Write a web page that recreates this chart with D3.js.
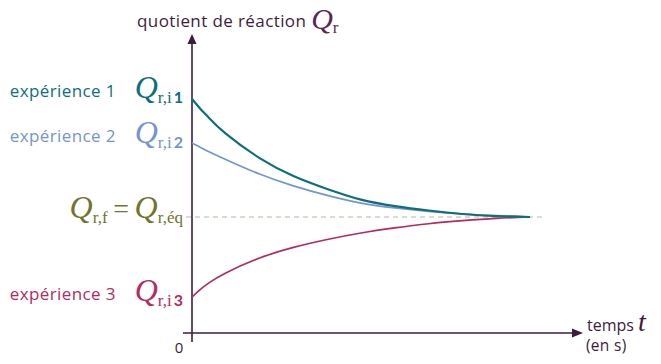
<!DOCTYPE html>
<html>
<head>
<meta charset="utf-8">
<script src="https://cdn.jsdelivr.net/npm/d3@7"></script>
<style>
  body { margin: 0; background: #fff; }
  text { font-family: "Open Sans", Lato, sans-serif; }
</style>
</head>
<body>
<div id="chart"></div>
<script>
// temps (s) et quotients de réaction
const times = [0, 0.25, 0.5, 1, 2, 3, 4, 5, 6, 7, 8, 9, 10];
const q1 = [10.09, 9.66, 9.28, 8.59, 7.54, 6.77, 6.21, 5.75, 5.47, 5.28, 5.13, 5.04, 5.0];
const q2 = [8.19, 8.00, 7.81, 7.48, 6.85, 6.34, 5.93, 5.60, 5.39, 5.24, 5.13, 5.06, 5.0];
const q3 = [1.55, 1.88, 2.16, 2.59, 3.23, 3.69, 4.03, 4.31, 4.53, 4.71, 4.84, 4.94, 5.0];
const qEq = 5;
const expLabels = ["expérience 1", "expérience 2", "expérience 3"];
const expNums = ["1", "2", "3"];
const colors = ["#0d6f7c", "#7495cf", "#b52a5f"];
const widths = [2.2, 1.7, 1.7];

const width = 661, height = 364;
const axisColor = "#3e1c3e", olive = "#73742f";
const serif = "'Liberation Serif', 'DejaVu Serif', serif";

const svg = d3.select("#chart")
    .append("svg")
    .attr("width", width)
    .attr("height", height);

const x = d3.scaleLinear().domain([0, 10]).range([192, 530]);
const y = d3.scaleLinear().domain([0, 12]).range([333, 54.6]);

// ligne d'équilibre en pointillés
svg.append("line")
    .attr("x1", x(0) - 6).attr("x2", x(10) + 15)
    .attr("y1", y(qEq)).attr("y2", y(qEq))
    .attr("stroke", "#b9b89c")
    .attr("stroke-width", 1)
    .attr("stroke-dasharray", "5,4");

// axes
svg.append("line")
    .attr("x1", x(0)).attr("x2", x(0))
    .attr("y1", y(0) + 9).attr("y2", 42)
    .attr("stroke", axisColor).attr("stroke-width", 1.6);
svg.append("path")
    .attr("d", `M${x(0)},34 L${x(0) - 4.5},44 L${x(0) + 4.5},44 Z`)
    .attr("fill", axisColor);

svg.append("line")
    .attr("x1", x(0) - 9).attr("x2", 574)
    .attr("y1", y(0)).attr("y2", y(0))
    .attr("stroke", axisColor).attr("stroke-width", 1.6);
svg.append("path")
    .attr("d", `M583,${y(0)} L572,${y(0) - 4.5} L572,${y(0) + 4.5} Z`)
    .attr("fill", axisColor);

// courbes
const line = d3.line()
    .x((d, i) => x(times[i]))
    .y(d => y(d))
    .curve(d3.curveNatural);

[q3, q2, q1].forEach((s, k) => {
    const i = 2 - k;
    svg.append("path")
        .attr("d", line(s))
        .attr("fill", "none")
        .attr("stroke", colors[i])
        .attr("stroke-width", widths[i]);
});

// étiquette Q avec indice
function qLabel(g, xPos, yPos, sub, num, color) {
    const t = g.append("text")
        .attr("x", xPos).attr("y", yPos)
        .attr("text-anchor", "end")
        .attr("fill", color);
    t.append("tspan")
        .style("font-family", serif)
        .style("font-style", "italic")
        .style("font-size", "32px")
        .text("Q");
    t.append("tspan")
        .attr("dy", 5)
        .style("font-family", serif)
        .style("font-size", "17px")
        .text(sub);
    if (num) {
        t.append("tspan")
            .style("font-family", "Lato, sans-serif")
            .style("font-weight", "bold")
            .style("font-size", "16px")
            .text("\u2009" + num);
    }
    return t;
}

const startQ = [q1[0], q2[0], q3[0]];
const labelDy = [-1, 0, 4];
expLabels.forEach((lab, i) => {
    svg.append("text")
        .attr("x", 116).attr("y", y(startQ[i]) + labelDy[i] - 1)
        .attr("text-anchor", "end")
        .attr("fill", colors[i])
        .style("font-size", "17px")
        .style("letter-spacing", "0.4px")
        .text(lab);
    qLabel(svg, 183, y(startQ[i]) + labelDy[i], "r,i", expNums[i], colors[i]);
});

// Qr,f = Qr,éq
const eq = svg.append("text")
    .attr("x", 183).attr("y", y(qEq) + 1)
    .attr("text-anchor", "end")
    .attr("fill", olive);
eq.append("tspan").style("font-family", serif)
    .style("font-style", "italic").style("font-size", "32px").text("Q");
eq.append("tspan").attr("dy", 5).style("font-family", serif)
    .style("font-size", "17px").text("r,f");
eq.append("tspan").attr("dy", -5).style("font-family", serif)
    .style("font-size", "28px").text("\u2009=\u2009");
eq.append("tspan").style("font-family", serif)
    .style("font-style", "italic").style("font-size", "32px").text("Q");
eq.append("tspan").attr("dy", 5).style("font-family", serif)
    .style("font-size", "17px").text("r,éq");

// titre de l'axe vertical
const title = svg.append("text")
    .attr("x", 137).attr("y", 27)
    .attr("fill", axisColor);
title.append("tspan")
    .style("font-size", "17px")
    .style("letter-spacing", "0.4px")
    .text("quotient de réaction ");
title.append("tspan").attr("dy", 2)
    .style("font-family", serif)
    .style("font-style", "italic").style("font-size", "30px")
    .attr("fill", "#5a2753").text("Q");
title.append("tspan").attr("dy", 4)
    .style("font-family", serif)
    .style("font-size", "17px")
    .attr("fill", "#5a2753").text("r");

// axe horizontal
svg.append("text")
    .attr("x", 179).attr("y", 353)
    .attr("text-anchor", "middle")
    .attr("fill", axisColor)
    .style("font-size", "15px")
    .text("0");

svg.append("text")
    .attr("x", 587).attr("y", 331)
    .attr("fill", axisColor)
    .style("font-size", "16px")
    .text("temps");
svg.append("text")
    .attr("x", 638).attr("y", 331)
    .attr("fill", axisColor)
    .style("font-family", serif)
    .style("font-style", "italic").style("font-size", "28px")
    .text("t");

svg.append("text")
    .attr("x", 586).attr("y", 351)
    .attr("fill", axisColor)
    .style("font-size", "15.5px")
    .style("letter-spacing", "0.3px")
    .text("(en s)");
</script>
</body>
</html>
